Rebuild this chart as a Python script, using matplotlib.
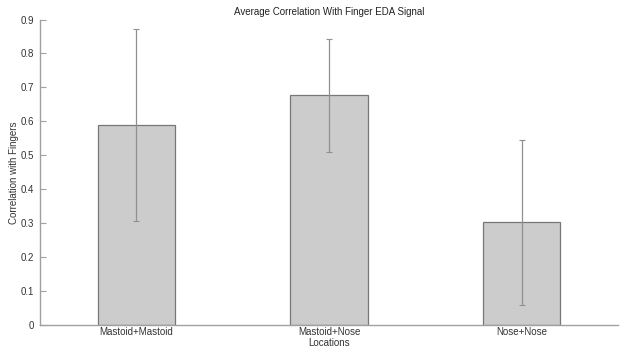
import matplotlib
matplotlib.use("Agg")
import matplotlib.pyplot as plt

categories = ["Mastoid+Mastoid", "Mastoid+Nose", "Nose+Nose"]
means = [0.589, 0.677, 0.303]
upper = [0.871, 0.844, 0.546]
lower = [0.306, 0.510, 0.060]
yticks = [0, 0.1, 0.2, 0.3, 0.4, 0.5, 0.6, 0.7, 0.8, 0.9]

plt.rcParams['font.family'] = ['Liberation Sans', 'DejaVu Sans']

fig = plt.figure(figsize=(6.22, 3.48), dpi=100)
W, H = 622, 348
ax = fig.add_axes([40 / W, (H - 325) / H, (618 - 40) / W, (325 - 19.5) / H])

x = list(range(1, len(categories) + 1))
ax.bar(x, means, width=0.4, color="#cccccc", edgecolor="#777777", linewidth=0.9, zorder=2)
yerr = [[m - l for m, l in zip(means, lower)], [u - m for m, u in zip(means, upper)]]
ax.errorbar(x, means, yerr=yerr, fmt="none", ecolor="#909090", elinewidth=0.9,
            capsize=2.2, capthick=0.8, zorder=3)

ax.set_xlim(0.5, 3.5)
ax.set_ylim(0, 0.9)
ax.set_xticks(x)
ax.set_xticklabels(categories)
ax.set_yticks(yticks)
ax.set_yticklabels([("%g" % v) for v in yticks])
for s in ["top", "right"]:
    ax.spines[s].set_visible(False)
for s in ["left", "bottom"]:
    ax.spines[s].set_color("#a0a0a0")
    ax.spines[s].set_linewidth(1.0)
ax.tick_params(axis="y", direction="in", length=4, color="#a0a0a0", labelsize=7, labelcolor="#333333", pad=4)
ax.tick_params(axis="x", length=0, labelsize=7, labelcolor="#333333", pad=1.5)
ax.set_xlabel("Locations", fontsize=7, color="#333333", labelpad=0.5)
ax.set_ylabel("Correlation with Fingers", fontsize=7, color="#333333", labelpad=1.5)
ax.set_title("Average Correlation With Finger EDA Signal", fontsize=7, color="#222222", pad=3)

fig.savefig("out.png", dpi=100)
